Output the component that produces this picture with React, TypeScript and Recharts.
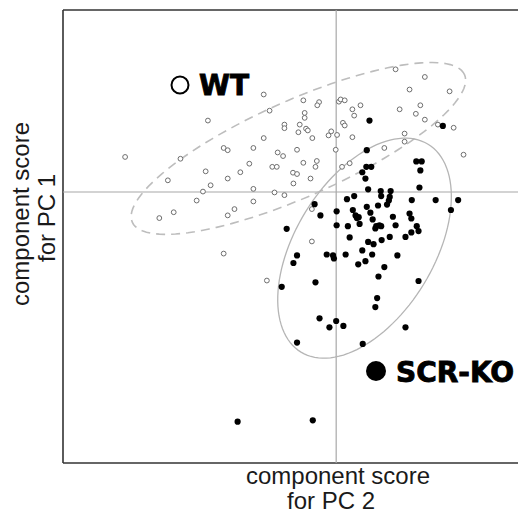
import { ScatterChart, Scatter, XAxis, YAxis, ReferenceLine } from 'recharts';

// PC2 (x) / PC1 (y) component scores, wild type
const WT_X = [1.32, 1.97, 1.63, 2.52, -1.61, -0.73, -0.38, -0.42, 0.06, 0.10, 0.19, 0.54, 1.87, 1.41, -1.48, 0.36, 1.77, 0.40, -0.70, -0.70, -2.85, 1.97, 0.15, 0.19, -1.15, -1.15, -0.81, -0.67, -0.63, -0.84, 2.26, 2.61, -0.11, -0.17, 0.02, -1.61, -0.53, 0.36, 1.52, 1.52, 1.07, -2.50, -2.41, -1.84, -0.87, -0.01, -1.30, -1.18, -4.69, -3.46, 2.83, -0.43, -0.46, -1.93, -0.73, 0.30, 0.13, -2.90, -1.42, -1.32, -2.13, -0.96, -0.87, -3.74, -2.41, -0.57, -0.95, -2.79, -1.84, -2.96, -1.37, -1.15, -3.10, -1.84, -2.26, -3.61, -2.41, -3.93, -0.54, -0.54, -2.50, -1.54];
const WT_Y = [2.73, 2.56, 2.28, 2.24, 2.17, 2.04, 2.00, 1.93, 2.01, 2.06, 2.04, 1.93, 1.93, 1.84, 1.81, 1.84, 1.74, 1.70, 1.76, 1.65, 1.59, 1.61, 1.54, 1.48, 1.50, 1.42, 1.50, 1.41, 1.37, 1.33, 1.50, 1.43, 1.35, 1.26, 1.27, 1.20, 1.20, 1.22, 1.30, 1.12, 0.98, 0.98, 0.93, 0.98, 0.94, 0.94, 0.88, 0.80, 0.78, 0.74, 0.83, 0.69, 0.56, 0.63, 0.65, 0.64, 0.56, 0.46, 0.56, 0.56, 0.44, 0.43, 0.40, 0.26, 0.30, 0.30, 0.19, 0.15, 0.07, 0.01, -0.01, -0.07, -0.19, -0.21, -0.38, -0.45, -0.52, -0.58, -0.38, -1.10, -1.37, -1.97];

// SCR-KO
const KO_X = [0.74, 2.37, 0.68, 0.67, 0.78, 0.58, 1.78, 1.90, 1.87, 0.65, 0.71, 1.85, 0.99, 1.21, 0.40, 1.00, 1.19, 1.17, 1.68, 2.21, 2.71, 2.55, 1.13, 0.93, 0.68, 0.37, 0.76, 1.63, 1.67, 0.43, 0.46, 0.50, 0.52, 0.81, 1.26, 0.89, 0.96, 1.00, 0.87, 1.32, 1.79, 1.83, 1.67, 1.54, 1.19, 0.30, 1.01, 0.71, 0.83, 0.58, 0.80, 0.65, 0.49, 1.36, 1.07, 0.94, 1.83, 0.24, -0.48, 0.01, -0.35, 0.01, 0.26, -1.10, -0.87, -0.95, -0.21, -0.07, -0.05, 0.21, -1.21, -0.46, 0.91, 0.87, -0.37, 0.00, -0.15, 0.16, 1.54, -0.87, 0.59, -2.19, -0.52];
const KO_Y = [1.59, 1.47, 0.93, 0.56, 0.56, 0.44, 0.68, 0.68, 0.48, 0.30, 0.06, 0.10, 0.02, 0.02, -0.09, -0.09, -0.11, -0.19, -0.18, -0.18, -0.18, -0.40, -0.28, -0.30, -0.33, -0.40, -0.46, -0.48, -0.59, -0.52, -0.58, -0.56, -0.71, -0.61, -0.55, -0.76, -0.74, -0.76, -0.81, -0.74, -0.76, -0.87, -0.90, -1.00, -1.00, -1.01, -1.07, -1.11, -1.16, -1.30, -1.39, -1.54, -1.61, -1.41, -1.67, -1.88, -1.98, -0.16, -0.27, -0.43, -0.52, -0.74, -0.76, -0.82, -1.41, -1.58, -1.39, -1.41, -1.48, -1.39, -2.11, -2.01, -2.36, -2.56, -2.81, -2.87, -3.01, -2.98, -3.01, -3.35, -3.38, -5.11, -5.08];

// 95% ellipses: centre x, centre y, semi-major, semi-minor, tilt (deg)
const WT_ELLIPSE = [-0.84, 0.97, 4.04, 1.07, 24];
const KO_ELLIPSE = [0.63, -1.25, 2.71, 1.54, 58.6];

const X_DOMAIN = [-6.07, 4.04];
const Y_DOMAIN = [-6.03, 4.05];

const wtData = WT_X.map((x, i) => ({ x, y: WT_Y[i] }));
const koData = KO_X.map((x, i) => ({ x, y: KO_Y[i] }));

const ellipse = ([cx, cy, a, b, deg]: number[]) => {
  const th = (deg * Math.PI) / 180;
  const pts = [];
  for (let i = 0; i <= 120; i++) {
    const t = (i / 120) * 2 * Math.PI;
    pts.push({
      x: cx + a * Math.cos(t) * Math.cos(th) - b * Math.sin(t) * Math.sin(th),
      y: cy + a * Math.cos(t) * Math.sin(th) + b * Math.sin(t) * Math.cos(th),
    });
  }
  return pts;
};

const OpenDot = (p: any) => (
  <circle cx={p.cx} cy={p.cy} r={2.4} fill="#fff" stroke="#6e6e6e" strokeWidth={1} />
);
const FilledDot = (p: any) => <circle cx={p.cx} cy={p.cy} r={3.1} fill="#000" />;
const NoDot = () => <g />;

const labelFont = '"Liberation Sans", Arial, sans-serif';
const legendFont = '"DejaVu Sans", sans-serif';

export default function App() {
  return (
    <div style={{ position: 'absolute', left: 0, top: 0, width: 518, height: 515, background: '#fff' }}>
      <ScatterChart width={518} height={515} margin={{ top: 10, right: 0, bottom: 52, left: 63 }}>
        <XAxis type="number" dataKey="x" domain={X_DOMAIN} allowDataOverflow height={0} tick={false} tickLine={false} axisLine={false} />
        <YAxis type="number" dataKey="y" domain={Y_DOMAIN} allowDataOverflow width={0} tick={false} tickLine={false} axisLine={false} />
        {/* frame */}
        <ReferenceLine x={X_DOMAIN[0]} stroke="#333" strokeWidth={1.6} />
        <ReferenceLine y={Y_DOMAIN[0]} stroke="#333" strokeWidth={1.6} />
        <ReferenceLine y={Y_DOMAIN[1]} stroke="#333" strokeWidth={1.6} />
        {/* crosshair */}
        <ReferenceLine x={0} stroke="#a8a8a8" strokeWidth={1.2} />
        <ReferenceLine y={0} stroke="#a8a8a8" strokeWidth={1.2} />
        <Scatter
          data={ellipse(WT_ELLIPSE)}
          line={{ stroke: '#bdbdbd', strokeWidth: 1.6, strokeDasharray: '9 6' }}
          lineType="joint"
          shape={NoDot}
          isAnimationActive={false}
        />
        <Scatter
          data={ellipse(KO_ELLIPSE)}
          line={{ stroke: '#b5b5b5', strokeWidth: 1.3 }}
          lineType="joint"
          shape={NoDot}
          isAnimationActive={false}
        />
        <Scatter data={wtData} shape={OpenDot} isAnimationActive={false} />
        <Scatter data={koData} shape={FilledDot} isAnimationActive={false} />
      </ScatterChart>

      <svg width={518} height={515} style={{ position: 'absolute', left: 0, top: 0, pointerEvents: 'none' }}>
        <circle cx={180} cy={85} r={8.5} fill="none" stroke="#000" strokeWidth={2} />
        <text x={199} y={95} fontFamily={legendFont} fontWeight="bold" fontSize={28} fill="#000" stroke="#000" strokeWidth={0.9}>
          WT
        </text>
        <circle cx={376} cy={371} r={10} fill="#000" />
        <text x={396} y={382} fontFamily={legendFont} fontWeight="bold" fontSize={28} fill="#000" stroke="#000" strokeWidth={0.9}>
          SCR-KO
        </text>
        <text x={338} y={484} textAnchor="middle" fontFamily={labelFont} fontSize={24} fill="#1a1a1a">
          component score
        </text>
        <text x={331} y={509} textAnchor="middle" fontFamily={labelFont} fontSize={24} fill="#1a1a1a">
          for PC 2
        </text>
        <g transform="translate(29,214) rotate(-90)">
          <text x={0} y={0} textAnchor="middle" fontFamily={labelFont} fontSize={24} fill="#1a1a1a">
            component score
          </text>
          <text x={-4} y={26} textAnchor="middle" fontFamily={labelFont} fontSize={24} fill="#1a1a1a">
            for PC 1
          </text>
        </g>
      </svg>
    </div>
  );
}
